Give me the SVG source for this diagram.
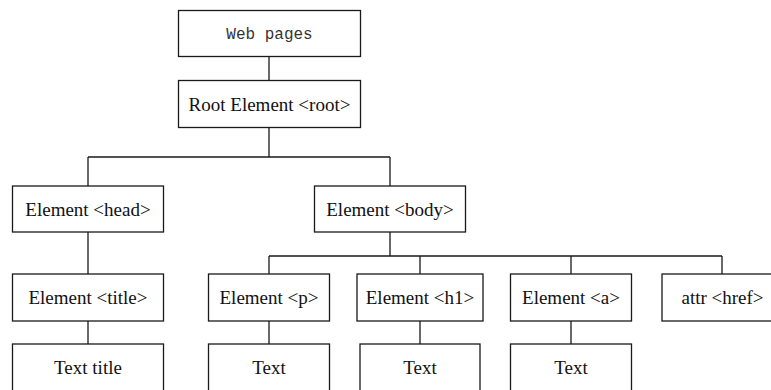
<svg xmlns="http://www.w3.org/2000/svg" width="771" height="390" viewBox="0 0 771 390">
<style>
.box{fill:#fff;stroke:#1a1a1a;stroke-width:1.3}
.lbl{font-family:"Liberation Serif","Times New Roman",serif;font-size:19px;fill:#111;text-anchor:middle}
.mono{font-family:"Liberation Mono","Courier New",monospace;font-size:16px;fill:#333;text-anchor:middle}
.conn{stroke:#1a1a1a;stroke-width:1.3;fill:none}
</style>
<rect width="771" height="390" fill="#fff"/>
<g id="connectors">
<path class="conn" d="M269 56V80 M269 127V157 M88 157H390 M88 157V186 M390 157V186 M88 232V274 M88 321V344 M390 232V256 M269 256H722 M269 256V274 M420 256V274 M571 256V274 M722 256V274 M269 321V344 M420 321V344 M571 321V344"/>
</g>
<g id="web"><rect class="box" x="178.5" y="10.5" width="182" height="46"/><text class="mono" x="269.5" y="38.5">Web pages</text></g>
<g id="root"><rect class="box" x="178.5" y="80.5" width="182" height="47"/><text class="lbl" x="269.5" y="110.5">Root Element &lt;root&gt;</text></g>
<g id="head"><rect class="box" x="12.5" y="186" width="151" height="46"/><text class="lbl" x="88" y="215.5">Element &lt;head&gt;</text></g>
<g id="body"><rect class="box" x="314.5" y="186" width="151" height="46"/><text class="lbl" x="390" y="215.5">Element &lt;body&gt;</text></g>
<g id="title"><rect class="box" x="12.5" y="274" width="151" height="47"/><text class="lbl" x="88" y="303.5">Element &lt;title&gt;</text></g>
<g id="p"><rect class="box" x="208.5" y="274" width="121" height="47"/><text class="lbl" x="269" y="303.5">Element &lt;p&gt;</text></g>
<g id="h1"><rect class="box" x="357" y="274" width="126" height="47"/><text class="lbl" x="420" y="303.5">Element &lt;h1&gt;</text></g>
<g id="a"><rect class="box" x="510.5" y="274" width="121" height="47"/><text class="lbl" x="571" y="303.5">Element &lt;a&gt;</text></g>
<g id="href"><rect class="box" x="662" y="274" width="121" height="47"/><text class="lbl" x="722.5" y="303.5">attr &lt;href&gt;</text></g>
<g id="texttitle"><rect class="box" x="12.5" y="344" width="151" height="60"/><text class="lbl" x="88" y="374">Text title</text></g>
<g id="textp"><rect class="box" x="208.5" y="344" width="121" height="60"/><text class="lbl" x="269" y="374">Text</text></g>
<g id="texth1"><rect class="box" x="360" y="344" width="120" height="60"/><text class="lbl" x="420" y="374">Text</text></g>
<g id="texta"><rect class="box" x="510.5" y="344" width="121" height="60"/><text class="lbl" x="571" y="374">Text</text></g>
</svg>
